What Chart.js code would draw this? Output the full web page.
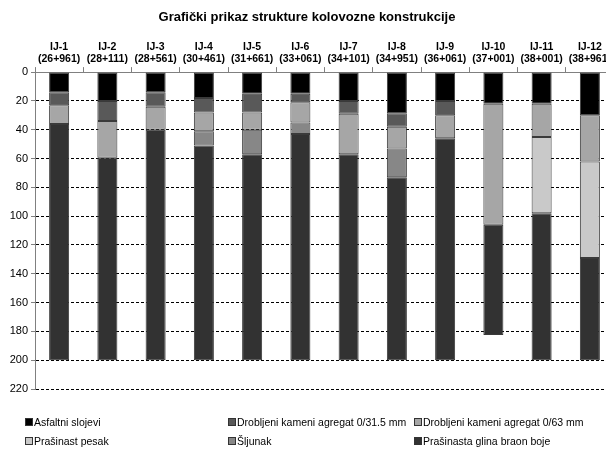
<!DOCTYPE html>
<html>
<head>
<meta charset="utf-8">
<script src="https://cdn.jsdelivr.net/npm/chart.js@4.4.1/dist/chart.umd.min.js"></script>
<style>
  html, body { margin: 0; padding: 0; background: #fff; overflow: hidden; }
  #wrap { position: relative; width: 614px; height: 450px; }
  #legend { position: absolute; left: 0; top: 416px; width: 606px; font: 10.5px "Liberation Sans", Arial, sans-serif; color: #000; }
  #legend .item { position: absolute; white-space: nowrap; line-height: 13px; }
  #legend .box { display: inline-block; width: 6px; height: 6px; border: 1px solid #333; margin-right: 1px; vertical-align: 0px; }
</style>
</head>
<body>
<div id="wrap">
  <canvas id="Profil" width="614" height="450"></canvas>
  <div id="legend"></div>
</div>
<script>
// sonde i stacionaze
var probes = ['IJ-1', 'IJ-2', 'IJ-3', 'IJ-4', 'IJ-5', 'IJ-6', 'IJ-7', 'IJ-8', 'IJ-9', 'IJ-10', 'IJ-11', 'IJ-12'];
var stations = ['(26+961)', '(28+111)', '(28+561)', '(30+461)', '(31+661)', '(33+061)', '(34+101)', '(34+951)', '(36+061)', '(37+001)', '(38+001)', '(38+961)'];

// debljine slojeva (cm), odozgo prema dole
var asfalt = [14, 20, 14, 18, 15, 15, 20, 28.5, 20, 22, 22, 30];
var agregat315 = [9, 14, 10, 10, 13, 6, 9, 9.5, 10, null, null, null];
var agregat63 = [13, 25.5, 16, 13, 12, 14, 28, 15, 16, 84, 23, 32];
var pesak = [null, null, null, null, null, null, null, null, null, null, 53, 67];
var sljunak = [null, null, null, 10, 17, 8, null, 20, null, null, null, null];
var glina = [164, 140.5, 160, 149, 143, 157, 143, 127, 154, 76.5, 102, 71];

var yTicks = [0, 20, 40, 60, 80, 100, 120, 140, 160, 180, 200, 220];

var font = '"Liberation Sans", Arial, sans-serif';

var series = [
    { label: 'Asfaltni slojevi', data: asfalt, color: '#000000', left: 25, row: 0 },
    { label: 'Drobljeni kameni agregat 0/31.5 mm', data: agregat315, color: '#595959', left: 228, row: 0 },
    { label: 'Drobljeni kameni agregat 0/63 mm', data: agregat63, color: '#a6a6a6', left: 414, row: 0 },
    { label: 'Prašinast pesak', data: pesak, color: '#c9c9c9', left: 25, row: 1 },
    { label: 'Šljunak', data: sljunak, color: '#878787', left: 228, row: 1 },
    { label: 'Prašinasta glina braon boje', data: glina, color: '#323232', left: 414, row: 1 }
];

new Chart(document.getElementById('Profil'), {
    type: 'bar',
    data: {
        labels: probes.map(function (p, i) { return [p, stations[i]]; }),
        datasets: series.map(function (s) {
            return {
                label: s.label,
                data: s.data,
                backgroundColor: s.color,
                borderColor: '#3a3a3a',
                borderWidth: 1,
                borderSkipped: false,
                barPercentage: 0.415,
                categoryPercentage: 1
            };
        })
    },
    options: {
        responsive: false,
        animation: false,
        layout: { padding: { top: 0, right: 0, bottom: 61, left: 0 } },
        plugins: {
            legend: { display: false },
            tooltip: { enabled: false },
            title: {
                display: true,
                text: 'Grafički prikaz strukture kolovozne konstrukcije',
                color: '#000',
                font: { family: font, size: 13, weight: 'bold' },
                padding: { top: 10, bottom: 6 }
            }
        },
        scales: {
            x: {
                position: 'top',
                stacked: true,
                grid: { offset: true, drawOnChartArea: false, drawTicks: true, tickLength: 5, color: '#808080' },
                border: { color: '#808080' },
                ticks: { color: '#000', maxRotation: 0, autoSkip: false, padding: 2, font: { family: font, size: 10.5, weight: 'bold', lineHeight: 1.15 } },
                afterFit: function (scale) { scale.height = 40.5; }
            },
            y: {
                stacked: true,
                reverse: true,
                min: 0,
                max: 220,
                afterBuildTicks: function (scale) { scale.ticks = yTicks.map(function (v) { return { value: v }; }); },
                grid: {
                    color: function (ctx) { return ctx.tick && ctx.tick.value === 0 ? 'rgba(0,0,0,0)' : '#000'; },
                    lineWidth: 1,
                    tickLength: 4,
                    tickColor: '#808080'
                },
                border: { color: '#808080', dash: [3, 2] },
                ticks: { color: '#000', padding: 3, font: { family: font, size: 11 } },
                afterFit: function (scale) { scale.width = 35; }
            }
        }
    }
});

// legenda u tri kolone
var legend = document.getElementById('legend');
series.forEach(function (s) {
    var item = document.createElement('div');
    item.className = 'item';
    item.style.left = s.left + 'px';
    item.style.top = (s.row * 19) + 'px';
    var box = document.createElement('span');
    box.className = 'box';
    box.style.background = s.color;
    item.appendChild(box);
    item.appendChild(document.createTextNode(s.label));
    legend.appendChild(item);
});
</script>
</body>
</html>
